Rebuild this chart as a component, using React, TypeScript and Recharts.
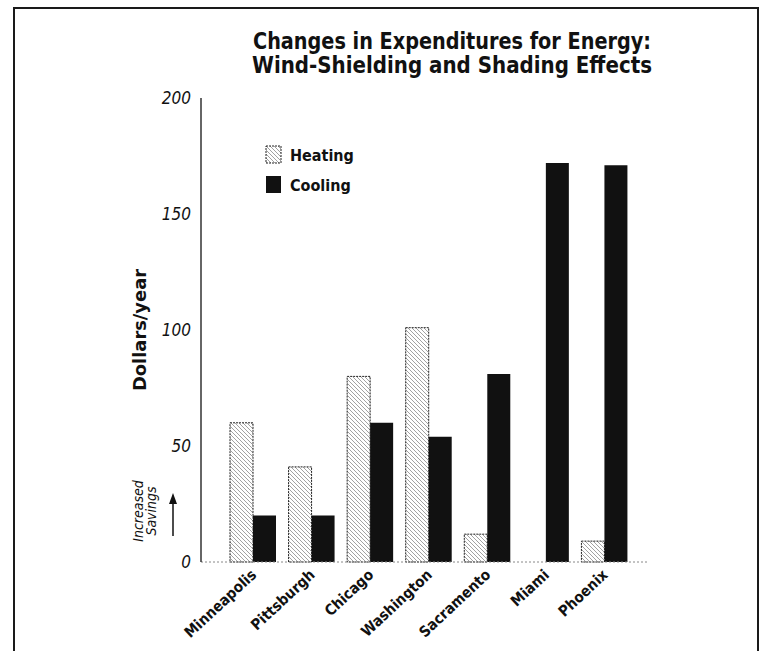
import { Bar, BarChart, XAxis, YAxis } from "recharts";

const cities = ["Minneapolis", "Pittsburgh", "Chicago", "Washington", "Sacramento", "Miami", "Phoenix"];
const heating = [60, 41, 80, 101, 12, 0, 9];
const cooling = [20, 20, 60, 54, 81, 172, 171];
const yTicks = [0, 50, 100, 150, 200];

const data = cities.map((city, i) => ({ city, heating: heating[i], cooling: cooling[i] }));

const narrow = "'Liberation Sans Narrow', 'DejaVu Sans Condensed', 'Arial Narrow', sans-serif";

const CityTick = ({ x, y, payload }: any) => (
  <g transform={`translate(${x + 4},${y + 6})`}>
    <text textAnchor="end" transform="rotate(-43)" fontFamily={narrow} fontWeight={700} fontSize={15} fill="#111">
      {payload.value}
    </text>
  </g>
);

const YTitle = ({ viewBox }: any) => {
  const cx = viewBox.x + 15;
  const cy = viewBox.y + viewBox.height / 2;
  return (
    <text
      transform={`translate(${cx},${cy}) rotate(-90)`}
      textAnchor="middle"
      textLength={122}
      lengthAdjust="spacingAndGlyphs"
      fontFamily={narrow}
      fontWeight={700}
      fontSize={17}
      fill="#111"
    >
      Dollars/year
    </text>
  );
};

const Hatch = ({ id }: { id: string }) => (
  <pattern id={id} patternUnits="userSpaceOnUse" width={4} height={4}>
    <rect width={4} height={4} fill="#fff" />
    <path d="M-1,-1 L5,5 M-1,3 L1,5 M3,-1 L5,1" stroke="#8a8a8a" strokeWidth={0.8} />
  </pattern>
);

export default function App() {
  return (
    <div style={{ position: "absolute", left: 0, top: 0, width: 759, height: 651, overflow: "hidden", background: "#fff" }}>
      <div
        style={{
          position: "absolute",
          left: 13,
          top: 7,
          width: 742,
          height: 650,
          border: "2px solid #1a1a1a",
          borderBottom: "none",
        }}
      />

      <div style={{ position: "absolute", left: 0, top: 0 }}>
        <BarChart
          width={759}
          height={651}
          data={data}
          margin={{ top: 98, right: 110, bottom: 29, left: 131 }}
          barGap={0}
          barSize={23}
        >
          <defs>
            <Hatch id="hatchBar" />
          </defs>
          <XAxis xAxisId="top" orientation="top" dataKey="city" height={0} tick={false} tickLine={false} axisLine={{ stroke: "#aaa", strokeDasharray: "2 3" }} />
          <YAxis yAxisId="right" orientation="right" width={0} tick={false} tickLine={false} axisLine={{ stroke: "#333" }} />
          <XAxis
            dataKey="city"
            interval={0}
            height={60}
            tickLine={false}
            axisLine={{ stroke: "#888", strokeDasharray: "2 2" }}
            padding={{ left: 23, right: 15 }}
            tick={<CityTick />}
          />
          <YAxis
            width={70}
            domain={[0, 200]}
            ticks={yTicks}
            tickLine={false}
            axisLine={{ stroke: "#333", strokeWidth: 1.5 }}
            tickMargin={4}
            tick={{ fontFamily: narrow, fontStyle: "italic", fontSize: 17, fill: "#111" }}
            label={<YTitle />}
          />
          <Bar dataKey="heating" fill="url(#hatchBar)" stroke="#222" strokeWidth={1} strokeDasharray="2 1" isAnimationActive={false} />
          <Bar dataKey="cooling" fill="#111" isAnimationActive={false} />
        </BarChart>
      </div>

      <svg width={759} height={651} style={{ position: "absolute", left: 0, top: 0, pointerEvents: "none" }}>
        <defs>
          <Hatch id="hatchKey" />
        </defs>
        <text x={452} y={49} textAnchor="middle" textLength={398} lengthAdjust="spacingAndGlyphs" fontFamily={narrow} fontWeight={700} fontSize={23} fill="#111">
          Changes in Expenditures for Energy:
        </text>
        <text x={452} y={73} textAnchor="middle" textLength={400} lengthAdjust="spacingAndGlyphs" fontFamily={narrow} fontWeight={700} fontSize={23} fill="#111">
          Wind-Shielding and Shading Effects
        </text>

        <rect x={266} y={146} width={15} height={17} fill="url(#hatchKey)" stroke="#222" strokeDasharray="2 1" />
        <text x={290} y={161} fontFamily={narrow} fontWeight={700} fontSize={16} fill="#111">Heating</text>
        <rect x={266} y={176} width={15} height={17} fill="#111" />
        <text x={290} y={191} fontFamily={narrow} fontWeight={700} fontSize={16} fill="#111">Cooling</text>

        <text transform="translate(143,511) rotate(-90)" textAnchor="middle" fontFamily={narrow} fontStyle="italic" fontSize={14} fill="#111">Increased</text>
        <text transform="translate(156,511) rotate(-90)" textAnchor="middle" fontFamily={narrow} fontStyle="italic" fontSize={14} fill="#111">Savings</text>
        <line x1={173} y1={536} x2={173} y2={502} stroke="#111" strokeWidth={1.5} />
        <polygon points="169,504 177,504 173,493" fill="#111" />
      </svg>
    </div>
  );
}
